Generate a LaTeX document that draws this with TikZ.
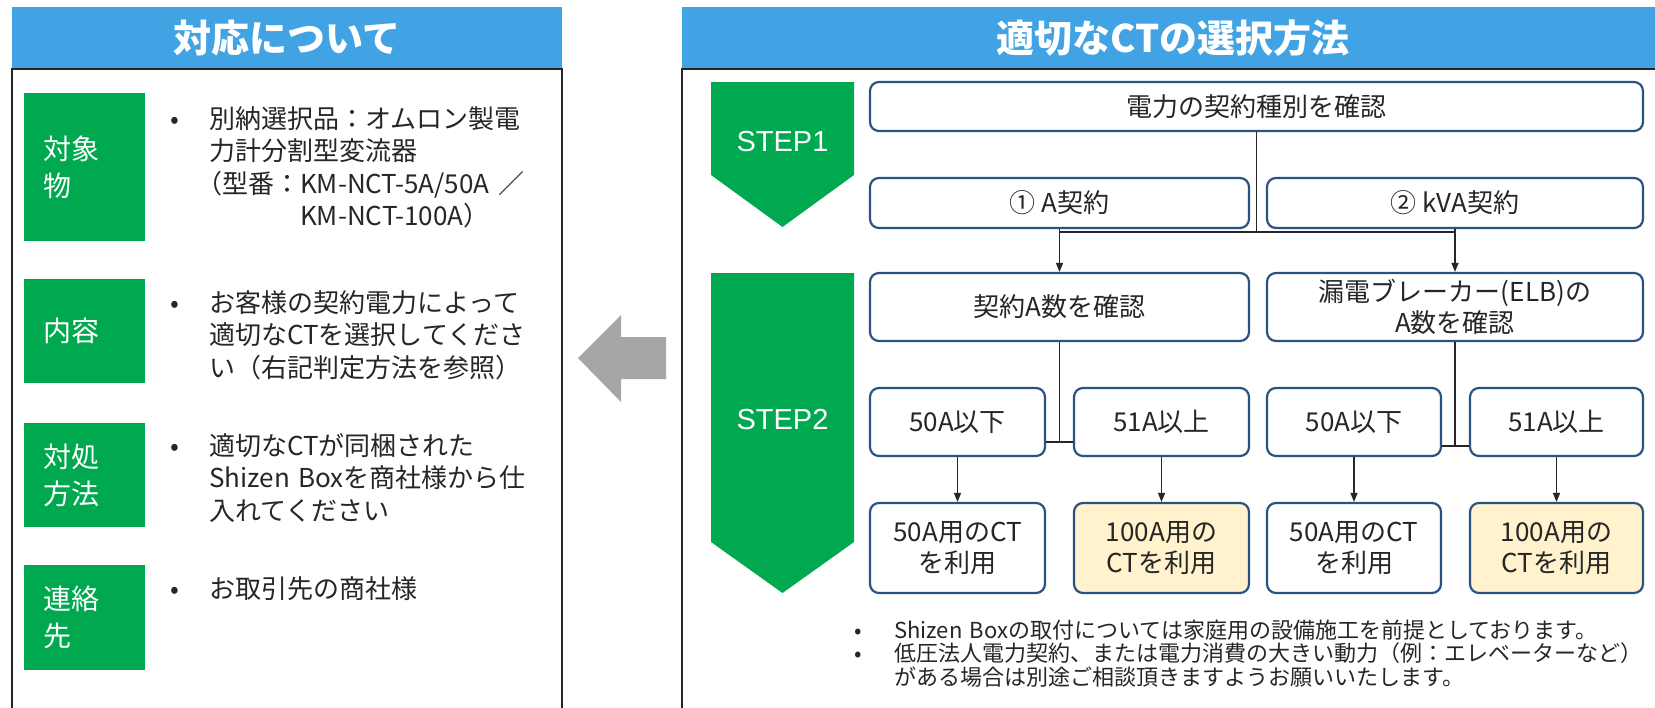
\documentclass[tikz,border=0pt]{standalone}
\usepackage{fontspec}
\setmainfont{Noto Sans CJK JP}
\newfontfamily\latinfont{Liberation Sans}
\usetikzlibrary{arrows.meta, positioning, calc}
\definecolor{headblue}{HTML}{41A3E3}
\definecolor{labelgreen}{HTML}{00A850}
\definecolor{boxline}{HTML}{2A5382}
\definecolor{ctcream}{HTML}{FFF2CC}
\definecolor{pointgray}{HTML}{A6A6A6}
\definecolor{inktext}{HTML}{262626}

\tikzset{
  flowbox/.style={draw=boxline, line width=2.2pt, rounded corners=9pt, fill=white, text=inktext, align=center, inner sep=0pt, font=\fontsize{26}{31}\selectfont},
  ctbox/.style={flowbox, fill=ctcream},
  flowline/.style={draw=inktext, line width=1.3pt},
  flowarrow/.style={flowline, -{Triangle[length=9pt,width=7pt]}},
  greenlabel/.style={fill=labelgreen, text=white, align=left, inner sep=0pt, inner xsep=19pt, text width=83pt, minimum width=121pt, font=\fontsize{28}{37}\selectfont},
  bodytext/.style={anchor=base west, text=inktext, align=left, inner sep=0pt, text width=350pt, font=\fontsize{26}{32.5}\selectfont},
  bulletmark/.style={anchor=base, text=inktext, inner sep=0pt, font=\fontsize{26}{32.5}\selectfont},
  notetext/.style={bodytext, text width=770pt, font=\fontsize{22}{23.5}\selectfont},
  notemark/.style={bulletmark, font=\fontsize{22}{23.5}\selectfont},
  headbar/.style={fill=headblue, text=white, inner sep=0pt, minimum height=62pt, font=\fontsize{38}{38}\selectfont\bfseries},
  steptext/.style={text=white, inner sep=0pt, font=\fontsize{29}{29}\selectfont\latinfont},
}

\begin{document}
\begin{tikzpicture}[x=1pt, y=-1pt]
  \clip (0,0) rectangle (1655,707);
  \fill[white] (0,0) rectangle (1655,707);

  % left panel
  \node[headbar, minimum width=550pt] (lefthead) at (287,38) {対応について};
  \draw[black!85, line width=1.5pt] (12,69) rectangle (562,730);

  \node[greenlabel, minimum height=148pt] (target) at (84.5,167) {対象\\物};
  \node[greenlabel, minimum height=104pt] (content) at (84.5,331) {内容};
  \node[greenlabel, minimum height=104pt] (remedy) at (84.5,475) {対処\\方法};
  \node[greenlabel, minimum height=105pt] (contact) at (84.5,617.5) {連絡\\先};

  \node[bulletmark] (tdot) at (175,128) {•};
  \node[bodytext] (ttext) at (209,128) {別納選択品：オムロン製電\\力計分割型変流器\\\hspace*{-0.5em}（型番：KM-NCT-5A/50A ／\\\hspace*{-0.5em}\phantom{（型番：}KM-NCT-100A）};
  \node[bulletmark] (cdot) at (175,312) {•};
  \node[bodytext] (ctext) at (209,312) {お客様の契約電力によって\\適切なCTを選択してくださ\\い（右記判定方法を参照）};
  \node[bulletmark] (rdot) at (175,455) {•};
  \node[bodytext] (rtext) at (209,455) {適切なCTが同梱された\\Shizen Boxを商社様から仕\\入れてください};
  \node[bulletmark] (kdot) at (175,598) {•};
  \node[bodytext] (ktext) at (209,598) {お取引先の商社様};

  % arrow between panels
  \fill[pointgray] (666,337) -- (621,337) -- (621,315) -- (578,358) -- (621,402) -- (621,379) -- (666,379) -- cycle;

  % right panel
  \node[headbar, minimum width=982pt] (righthead) at (1173,38) {適切なCTの選択方法};
  \draw[black!85, line width=1.5pt] (682,69) rectangle (1700,730);

  % STEP chevrons
  \fill[labelgreen] (711,82) -- (854,82) -- (854,175) -- (782.5,227) -- (711,175) -- cycle;
  \node[steptext] (step1) at (782.5,142) {STEP1};
  \fill[labelgreen] (711,273) -- (854,273) -- (854,542) -- (782.5,593) -- (711,542) -- cycle;
  \node[steptext] (step2) at (782.5,420) {STEP2};

  \node[flowbox, minimum width=773pt, minimum height=49pt] (kind) at (1256.5,106.5) {電力の契約種別を確認};
  \node[flowbox, minimum width=379pt, minimum height=50pt] (acon) at (1059.5,203) {① A契約};
  \node[flowbox, minimum width=376pt, minimum height=50pt] (kvacon) at (1455,203) {② kVA契約};
  \node[flowbox, minimum width=379pt, minimum height=68pt] (acheck) at (1059.5,307) {契約A数を確認};
  \node[flowbox, minimum width=376pt, minimum height=68pt] (elbcheck) at (1455,307) {漏電ブレーカー(ELB)の\\A数を確認};

  \node[flowbox, minimum width=175pt, minimum height=68pt] (low1) at (957.5,422) {50A以下};
  \node[flowbox, minimum width=175pt, minimum height=68pt] (high1) at (1161.5,422) {51A以上};
  \node[flowbox, minimum width=174pt, minimum height=68pt] (low2) at (1354,422) {50A以下};
  \node[flowbox, minimum width=173pt, minimum height=68pt] (high2) at (1556.5,422) {51A以上};

  \node[flowbox, minimum width=175pt, minimum height=90pt] (ct1) at (957.5,548) {50A用のCT\\を利用};
  \node[ctbox, minimum width=175pt, minimum height=90pt] (ct2) at (1161.5,548) {100A用の\\CTを利用};
  \node[flowbox, minimum width=174pt, minimum height=90pt] (ct3) at (1354,548) {50A用のCT\\を利用};
  \node[ctbox, minimum width=173pt, minimum height=90pt] (ct4) at (1556.5,548) {100A用の\\CTを利用};

  % connectors
  \coordinate (bus) at (1256.5,232);
  \coordinate (fork1) at (1059.5,442);
  \coordinate (fork2) at (1455,446);
  \draw[flowline] (kind.south) -- (bus);
  \draw[flowline] (bus -| acon.south) -- (bus -| kvacon.south);
  \draw[flowarrow] (acon.south) -- (acheck.north);
  \draw[flowarrow] (kvacon.south) -- (elbcheck.north);
  \draw[flowline] (acheck.south) -- (fork1);
  \draw[flowline] (fork1 -| low1.east) -- (fork1 -| high1.west);
  \draw[flowline] (elbcheck.south) -- (fork2);
  \draw[flowline] (fork2 -| low2.east) -- (fork2 -| high2.west);
  \draw[flowarrow] (low1.south) -- (ct1.north);
  \draw[flowarrow] (high1.south) -- (ct2.north);
  \draw[flowarrow] (low2.south) -- (ct3.north);
  \draw[flowarrow] (high2.south) -- (ct4.north);

  % notes
  \node[notemark] (ndot1) at (858,638) {•};
  \node[notetext] (note1) at (894,638) {Shizen Boxの取付については家庭用の設備施工を前提としております。};
  \node[notemark] (ndot2) at (858,661.5) {•};
  \node[notetext] (note2) at (894,661.5) {低圧法人電力契約、または電力消費の大きい動力（例：エレベーターなど）\\がある場合は別途ご相談頂きますようお願いいたします。};
\end{tikzpicture}
\end{document}
